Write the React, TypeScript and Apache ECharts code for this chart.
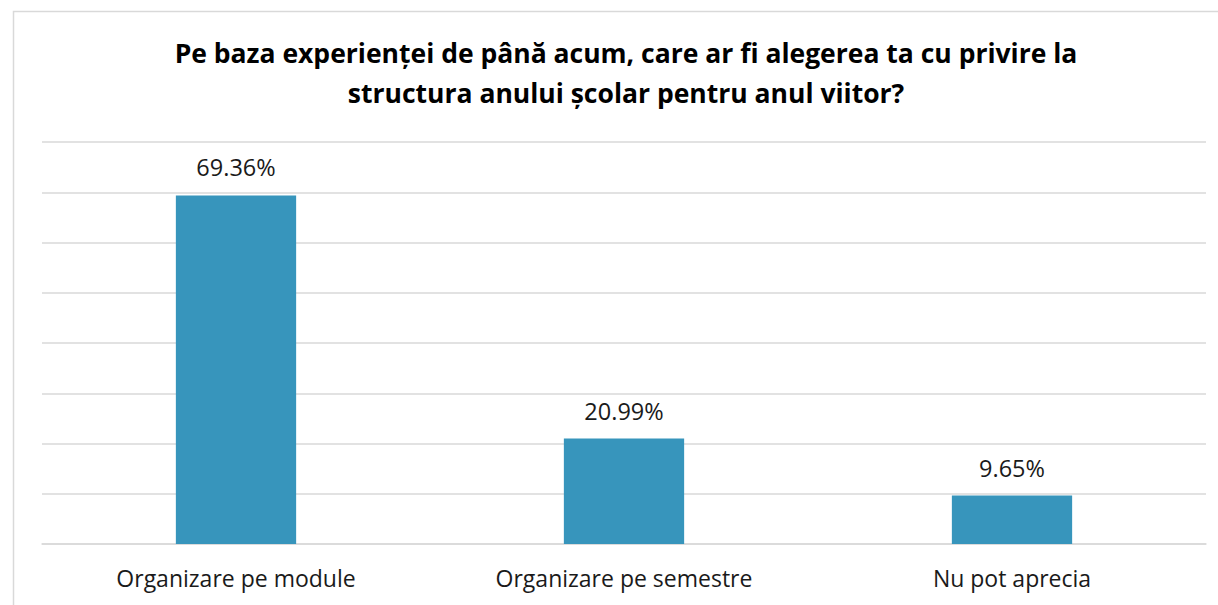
import React, { useEffect, useRef } from "react";
import * as echarts from "echarts";

const titleLines = [
  "Pe baza experienței de până acum, care ar fi alegerea ta cu privire la",
  "structura anului școlar pentru anul viitor?",
];
const categories = ["Organizare pe module", "Organizare pe semestre", "Nu pot aprecia"];
const values = [69.36, 20.99, 9.65];
const yMax = 80;
const yInterval = 10;

export default function App() {
  const ref = useRef<HTMLDivElement>(null);
  useEffect(() => {
    const chart = echarts.init(ref.current!, null, { renderer: "svg" });
    const font = "'Open Sans', sans-serif";
    chart.setOption({
      animation: false,
      backgroundColor: "#ffffff",
      title: {
        text: titleLines.join("\n"),
        left: 621,
        top: 28,
        textAlign: "center",
        textStyle: {
          fontFamily: font,
          fontWeight: "bold",
          fontSize: 26.5,
          lineHeight: 40,
          color: "#000000",
        },
      },
      graphic: [
        {
          type: "rect",
          shape: { x: 13.5, y: 11.5, width: 1300, height: 700 },
          style: { fill: "none", stroke: "#d9d9d9", lineWidth: 1.5 },
          silent: true,
        },
      ],
      grid: { left: 42, right: 12, top: 142, bottom: 61, containLabel: false },
      xAxis: {
        type: "category",
        data: categories,
        axisLine: { show: true, lineStyle: { color: "#d9d9d9", width: 1.5 } },
        axisTick: { show: false },
        axisLabel: {
          fontFamily: font,
          fontSize: 23,
          color: "#1a1a1a",
          margin: 22,
        },
      },
      yAxis: {
        type: "value",
        min: 0,
        max: yMax,
        interval: yInterval,
        axisLabel: { show: false },
        axisLine: { show: false },
        axisTick: { show: false },
        splitLine: { lineStyle: { color: "#d9d9d9", width: 1.5 } },
      },
      series: [
        {
          type: "bar",
          data: values,
          barWidth: "31%",
          itemStyle: { color: "#3795bc" },
          label: {
            show: true,
            position: "top",
            distance: 16,
            fontFamily: font,
            fontSize: 23.5,
            color: "#1a1a1a",
            formatter: (p: any) => p.value.toFixed(2) + "%",
          },
        },
      ],
    });
    return () => chart.dispose();
  }, []);
  return (
    <div
      ref={ref}
      style={{ position: "fixed", left: 0, top: 0, width: 1218, height: 605 }}
    />
  );
}
